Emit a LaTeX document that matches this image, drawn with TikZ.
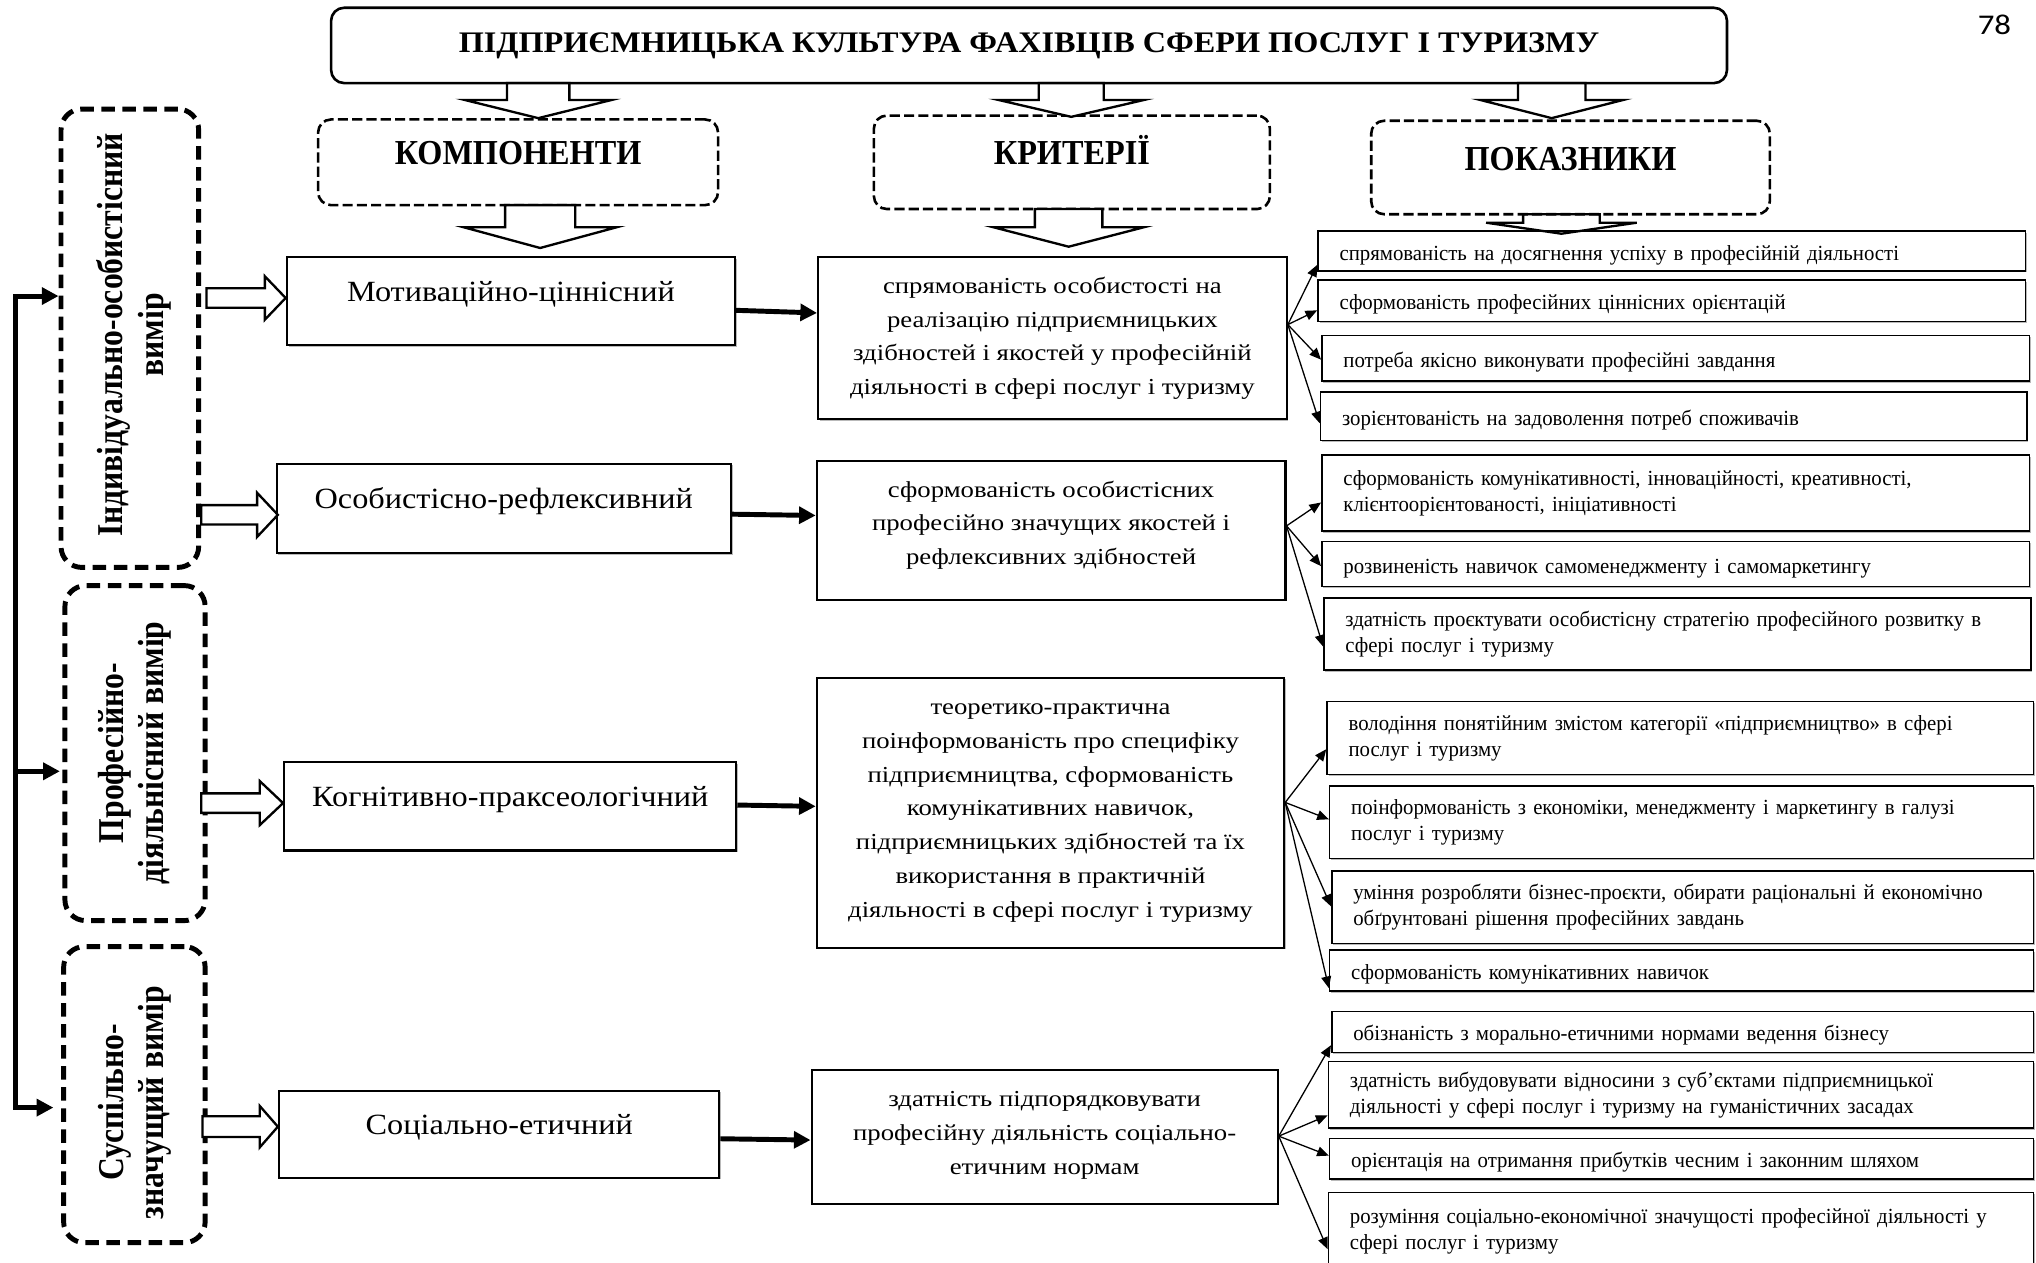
\documentclass[tikz,border=0pt]{standalone}
\usepackage{fontspec}
\setmainfont{Liberation Serif}
\newfontfamily\TitleFontX[FakeStretch=1.08]{Liberation Serif}
\newfontfamily\HeadFontX[FakeStretch=0.92]{Liberation Serif}
\newfontfamily\CompFontX[FakeStretch=1.1]{Liberation Serif}
\newfontfamily\CritFontX[FakeStretch=1.17]{Liberation Serif}
\newfontfamily\IndFontX[FakeStretch=0.965]{Liberation Serif}
\newfontfamily\VertFontX[FakeStretch=0.87]{Liberation Serif}
\newfontfamily\NumFontX[FakeStretch=1.15]{Carlito}
\usetikzlibrary{arrows.meta,shadows}

\newcommand\mkbox[7]{%
  \pgfmathsetmacro\mkbw{(#5-#3)*0.5}%
  \pgfmathsetmacro\mkbh{(#6-#4)*0.5}%
  \pgfmathsetmacro\mkcx{(#3+#5)/2}%
  \pgfmathsetmacro\mkcy{(#4+#6)/2}%
  \node[#1, minimum width=\mkbw pt, minimum height=\mkbh pt] (#2) at (\mkcx,\mkcy) {#7};}
\newcommand\mkind[6]{%
  \pgfmathsetmacro\mkbw{(#4-#2)*0.5}%
  \pgfmathsetmacro\mktw{(#4-#2)*0.5-16.6}%
  \pgfmathsetmacro\mkbh{(#5-#3)*0.5}%
  \pgfmathsetmacro\mkcx{(#2+#4)/2}%
  \pgfmathsetmacro\mkcy{(#3+#5)/2}%
  \node[indbox, minimum width=\mkbw pt, minimum height=\mkbh pt, text width=\mktw pt] (#1) at (\mkcx,\mkcy) {#6};}
% lowers a single text line a little inside its box
\newcommand\lowline{\rule{0pt}{8.8pt}}
% hollow block arrows: down (cx, ytop, ybase, ytip, half shaft, half head)
\newcommand\bdown[7][]{%
  \draw[blockarr,#1] ({#2-#6},#3) -- ({#2-#6},#4) -- ({#2-#7},#4) -- (#2,#5) -- ({#2+#7},#4) -- ({#2+#6},#4) -- ({#2+#6},#3) -- cycle;}
% right (cy, xleft, xbase, xtip, half shaft, half head)
\newcommand\bright[6]{%
  \draw[blockarr] (#2,{#1-#5}) -- (#3,{#1-#5}) -- (#3,{#1-#6}) -- (#4,#1) -- (#3,{#1+#6}) -- (#3,{#1+#5}) -- (#2,{#1+#5}) -- cycle;}

\begin{document}
\begin{tikzpicture}[x=0.5pt,y=-0.5pt,
  boxshadow/.style={drop shadow={shadow xshift=0.6pt, shadow yshift=-0.6pt, opacity=1, fill=gray!55}},
  titlebox/.style={draw, line width=1pt, rounded corners=5pt, fill=white, inner sep=0pt,
    font=\TitleFontX\bfseries\fontsize{11.5}{13}\selectfont, text height=9pt, text depth=3.4pt},
  headbox/.style={draw, line width=1pt, dash pattern=on 3.9pt off 1.6pt, rounded corners=5pt, fill=white, inner sep=0pt,
    font=\HeadFontX\bfseries\fontsize{13.5}{15}\selectfont, text height=9.5pt, text depth=7.5pt},
  dimbox/.style={draw, line width=1.9pt, dash pattern=on 5.2pt off 2.9pt, rounded corners=8pt, inner sep=0pt},
  dimlabel/.style={rotate=90, align=center, inner sep=0pt,
    font=\VertFontX\bfseries\fontsize{14}{15.5}\selectfont},
  compbox/.style={draw, line width=0.8pt, fill=white, boxshadow, inner sep=0pt,
    font=\CompFontX\fontsize{11.3}{13}\selectfont, text height=8pt, text depth=8pt},
  critbox/.style={draw, line width=0.8pt, fill=white, boxshadow, align=center, inner sep=0pt,
    font=\CritFontX\fontsize{8.8}{13}\selectfont},
  indbox/.style={draw, line width=0.6pt, fill=white, boxshadow, align=left, inner xsep=8pt, inner ysep=0pt,
    font=\IndFontX\fontsize{8.3}{10}\selectfont},
  pagenum/.style={inner sep=0pt, font=\NumFontX\fontsize{11}{12}\selectfont},
  blockarr/.style={draw, line width=0.9pt, fill=white, line join=miter},
  thickarr/.style={line width=1.9pt, -{Triangle[length=6.4pt,width=6.4pt]}},
  thinarr/.style={line width=0.5pt, -{Triangle[length=4.5pt,width=3.8pt]}}
]
\path[use as bounding box] (0,0) rectangle (1568,972);

% ---------- title and headings ----------
\mkbox{titlebox}{title}{255}{6}{1330}{64}{ПІДПРИЄМНИЦЬКА КУЛЬТУРА ФАХІВЦІВ СФЕРИ ПОСЛУГ І ТУРИЗМУ}
\node[pagenum] (pnum) at (1536,19) {78};
\mkbox{headbox}{hk}{245}{92}{553}{158}{КОМПОНЕНТИ}
\mkbox{headbox}{hc}{673}{89}{978}{161}{КРИТЕРІЇ}
\mkbox{headbox}{hp}{1056}{93}{1363}{165}{ПОКАЗНИКИ}

% ---------- dimension boxes ----------
\mkbox{dimbox}{v1}{47}{84}{153}{437}{}
\mkbox{dimbox}{v2}{50}{451}{158}{709}{}
\mkbox{dimbox}{v3}{49}{729}{158}{957}{}
\node[dimlabel] (v1t) at (103,258) {Індивідуально-особистісний\\вимір};
\node[dimlabel] (v2t) at (104,580) {Професійно-\\діяльнісний вимір};
\node[dimlabel] (v3t) at (104,849) {Суспільно-\\значущий вимір};

% ---------- components ----------
\mkbox{compbox}{k1}{221}{198}{566}{266}{Мотиваційно-ціннісний}
\mkbox{compbox}{k2}{213}{357}{563}{426}{Особистісно-рефлексивний}
\mkbox{compbox}{k3}{219}{587}{567}{655}{Когнітивно-праксеологічний}
\mkbox{compbox}{k4}{215}{840}{554}{907}{Соціально-етичний}

% ---------- criteria ----------
\mkbox{critbox}{c1}{630}{198}{991}{323}{спрямованість особистості на\\реалізацію підприємницьких\\здібностей і якостей у професійній\\діяльності в сфері послуг і туризму}
\mkbox{critbox}{c2}{629}{355}{990}{462}{сформованість особистісних\\професійно значущих якостей і\\рефлексивних здібностей\\[-7pt]\mbox{}}
\mkbox{critbox}{c3}{629}{522}{989}{730}{теоретико-практична\\поінформованість про специфіку\\підприємництва, сформованість\\комунікативних навичок,\\підприємницьких здібностей та їх\\використання в практичній\\діяльності в сфері послуг і туризму}
\mkbox{critbox}{c4}{625}{824}{984}{927}{здатність підпорядковувати\\професійну діяльність соціально-\\етичним нормам\\[-10pt]\mbox{}}

% ---------- indicators ----------
\mkind{i1}{1015}{178}{1560}{208.5}{\lowline спрямованість на досягнення успіху в професійній діяльності}
\mkind{i2}{1015}{215.6}{1560}{247.7}{\lowline сформованість професійних ціннісних орієнтацій}
\mkind{i3}{1018}{258.5}{1563}{293.4}{\lowline потреба якісно виконувати професійні завдання}
\mkind{i4}{1017}{302}{1561}{339.4}{\lowline зорієнтованість на задоволення потреб споживачів}
\mkind{i5}{1018}{350.4}{1563}{409}{сформованість комунікативності, інноваційності, креативності,\\клієнтоорієнтованості, ініціативності}
\mkind{i6}{1018}{417.2}{1563}{451.8}{\lowline розвиненість навичок самоменеджменту і самомаркетингу}
\mkind{i7}{1019.6}{460.6}{1564}{516}{здатність проєктувати особистісну стратегію професійного розвитку в\\сфері послуг і туризму}
\mkind{i8}{1022}{540.3}{1566}{596.6}{володіння понятійним змістом категорії «підприємництво» в сфері\\послуг і туризму}
\mkind{i9}{1024}{605.2}{1566}{661}{поінформованість з економіки, менеджменту і маркетингу в галузі\\послуг і туризму}
\mkind{i10}{1025.6}{671}{1566}{726.6}{уміння розробляти бізнес-проєкти, обирати раціональні й економічно\\обґрунтовані рішення професійних завдань}
\mkind{i11}{1024}{731.8}{1566}{763.2}{\lowline сформованість комунікативних навичок}
\mkind{i12}{1025.6}{779}{1566}{810.4}{\lowline обізнаність з морально-етичними нормами ведення бізнесу}
\mkind{i13}{1023}{817.6}{1566}{868.7}{здатність вибудовувати відносини з суб’єктами підприємницької\\діяльності у сфері послуг і туризму на гуманістичних засадах}
\mkind{i14}{1024}{876.7}{1566}{908.2}{\lowline орієнтація на отримання прибутків чесним і законним шляхом}
\mkind{i15}{1023}{918.3}{1566}{978}{розуміння соціально-економічної значущості професійної діяльності у\\сфері послуг і туризму}

% ---------- hollow block arrows ----------
\bdown{414.5}{64}{77}{91}{24}{56.5}
\bdown{825}{64}{77}{90}{25}{56}
\bdown{1195}{64}{77}{91}{26}{55}
\bdown{416}{158}{175}{191}{27}{59}
\bdown{823}{161}{175}{190}{26}{58}
\bdown[fill=none]{1202.5}{165}{171.5}{180}{29.5}{58}
\bright{229.5}{159}{204}{220}{7.5}{16.7}
\bright{396.5}{155}{198}{214}{7.5}{17}
\bright{618.5}{155}{200}{218}{7.5}{17}
\bright{867.7}{156}{200}{214}{8}{16}

% ---------- left bracket ----------
\coordinate (br1) at (12,228);
\coordinate (br2) at (12,594);
\coordinate (br3) at (12,853);
\draw[line width=1.9pt, line join=miter, {Triangle[length=6.4pt,width=6.4pt]}-{Triangle[length=6.4pt,width=6.4pt]}, shorten >=3pt]
  (v1.west |- br1) -- (br1) -- (br3) -- (v3.west |- br3);
\draw[thickarr, shorten >=1pt] (br2) -- (v2.west |- br2);

% ---------- components to criteria ----------
\draw[thickarr] (k1.east |- 0,239) -- (c1.west |- 0,241);
\draw[thickarr] (k2.east |- 0,396) -- (c2.west |- 0,397);
\draw[thickarr] (k3.east |- 0,620) -- (c3.west |- 0,621);
\draw[thickarr] (k4.east |- 0,877) -- (c4.west |- 0,878);

% ---------- criteria to indicators ----------
\draw[thinarr] (c1.east |- 0,250) -- (i1.west |- 0,204);
\draw[thinarr] (c1.east |- 0,250) -- (i2.west |- 0,239);
\draw[thinarr] (c1.east |- 0,250) -- (i3.west |- 0,277);
\draw[thinarr] (c1.east |- 0,250) -- (i4.west |- 0,326);
\draw[thinarr] (c2.east |- 0,405) -- (i5.west |- 0,387);
\draw[thinarr] (c2.east |- 0,405) -- (i6.west |- 0,436);
\draw[thinarr] (c2.east |- 0,405) -- (i7.west |- 0,498);
\draw[thinarr] (c3.east |- 0,618) -- (i8.west |- 0,577);
\draw[thinarr] (c3.east |- 0,618) -- (i9.west |- 0,631);
\draw[thinarr] (c3.east |- 0,618) -- (i10.west |- 0,698);
\draw[thinarr] (c3.east |- 0,618) -- (i11.west |- 0,761);
\draw[thinarr] (c4.east |- 0,875) -- (i12.west |- 0,805);
\draw[thinarr] (c4.east |- 0,875) -- (i13.west |- 0,859);
\draw[thinarr] (c4.east |- 0,875) -- (i14.west |- 0,890);
\draw[thinarr] (c4.east |- 0,875) -- (i15.west |- 0,962);
\end{tikzpicture}
\end{document}
